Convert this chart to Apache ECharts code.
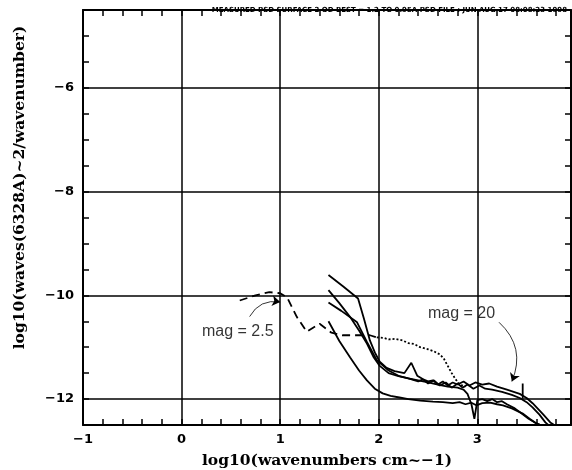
<!DOCTYPE html>
<html>
<head>
<meta charset="utf-8">
<script src="https://cdn.jsdelivr.net/npm/echarts@6/dist/echarts.min.js"></script>
<style>
html, body { margin: 0; padding: 0; background: #fff; }
#chart { width: 572px; height: 470px; }
</style>
</head>
<body>
<div id="chart"></div>
<script>
// axis ranges and grid lines
const xRange = [-1, 3.95]
const yRange = [-12.5, -4.5]
const xGridLines = [0, 1, 2, 3]
const yGridLines = [-6, -8, -10, -12]

// mag = 2.5 curve, dashed part then dotted part
const mag25Dashed = [[0.59, -10.10], [0.75, -10.0], [0.89, -9.94], [1.0, -9.96], [1.07, -10.04], [1.17, -10.42], [1.27, -10.70], [1.40, -10.55], [1.52, -10.72], [1.63, -10.77], [1.78, -10.77], [1.91, -10.77], [1.98, -10.81]]
const mag25Dotted = [[1.98, -10.81], [2.05, -10.82], [2.10, -10.85], [2.17, -10.84], [2.24, -10.87], [2.30, -10.92], [2.36, -10.94], [2.42, -11.0], [2.50, -11.04], [2.56, -11.08], [2.62, -11.14], [2.66, -11.22], [2.70, -11.36], [2.74, -11.50], [2.78, -11.62], [2.82, -11.72], [2.88, -11.76]]

// solid curves, top to bottom at x = 1.5
const curveA = [[1.49, -9.61], [1.64, -9.83], [1.79, -10.06], [1.85, -10.45], [1.91, -10.87], [1.96, -11.1], [2.01, -11.28], [2.08, -11.40], [2.16, -11.46], [2.26, -11.50], [2.33, -11.30], [2.39, -11.55], [2.45, -11.62], [2.50, -11.66], [2.55, -11.64], [2.60, -11.72], [2.65, -11.66], [2.70, -11.74], [2.75, -11.68], [2.80, -11.72], [2.86, -11.66], [2.92, -11.74], [2.98, -11.68], [3.05, -11.72], [3.12, -11.70], [3.20, -11.76], [3.30, -11.82], [3.43, -11.90], [3.50, -11.98], [3.56, -12.08], [3.62, -12.2], [3.67, -12.3], [3.74, -12.45], [3.78, -12.5]]
const curveB = [[1.49, -9.90], [1.60, -10.15], [1.71, -10.42], [1.80, -10.68], [1.88, -10.93], [1.95, -11.2], [2.01, -11.36], [2.10, -11.5], [2.20, -11.56], [2.30, -11.6], [2.40, -11.66], [2.45, -11.62], [2.50, -11.70], [2.56, -11.64], [2.62, -11.74], [2.68, -11.68], [2.74, -11.78], [2.80, -11.70], [2.85, -11.78], [2.90, -11.72], [2.96, -11.80], [3.02, -11.74], [3.08, -11.80], [3.15, -11.82], [3.25, -11.86], [3.35, -11.92], [3.43, -11.98], [3.50, -12.06], [3.56, -12.16], [3.63, -12.3], [3.69, -12.45], [3.72, -12.5]]
const curveC = [[1.49, -10.14], [1.62, -10.3], [1.78, -10.52], [1.88, -10.9], [1.98, -11.25], [2.10, -11.45], [2.21, -11.56], [2.30, -11.6], [2.40, -11.64], [2.50, -11.68], [2.60, -11.72], [2.70, -11.76], [2.80, -11.78], [2.86, -11.82], [2.90, -11.9], [2.94, -12.1], [2.97, -12.38], [3.00, -12.02], [3.05, -12.0], [3.10, -12.04], [3.15, -12.0], [3.20, -12.06], [3.25, -12.04], [3.30, -12.1], [3.38, -12.18], [3.45, -12.28], [3.52, -12.38], [3.60, -12.47], [3.64, -12.5]]
const curveD = [[1.49, -10.50], [1.60, -10.88], [1.71, -11.20], [1.80, -11.45], [1.88, -11.64], [1.96, -11.8], [2.04, -11.89], [2.12, -11.94], [2.21, -11.97], [2.30, -12.0], [2.42, -12.03], [2.55, -12.05], [2.65, -12.06], [2.75, -12.08], [2.82, -12.06], [2.88, -12.1], [2.94, -12.07], [2.99, -12.12], [3.05, -12.08], [3.13, -12.07], [3.20, -12.1], [3.26, -12.12], [3.35, -12.18], [3.46, -12.28], [3.53, -12.38], [3.60, -12.47], [3.64, -12.5], [3.85, -12.5]]
const markerTick = [[3.46, -11.70], [3.46, -11.99]]

// annotations
const noteText = ['mag = 2.5', 'mag = 20']
const notePos = [[0.57, -10.70], [2.84, -10.35]]
const noteArrows = [
  [[0.69, -10.41], [1.0, -10.13]],
  [[3.22, -10.52], [3.35, -11.66]]
]

const headerText = 'MEASURED PSD SURFACE 2 OD BEST = 1.2 TO 0.95A PSD FILE : JUN AUG 17 08:08:23 1998'

const chart = echarts.init(document.getElementById('chart'))

function fmtTick (v, even) {
  const r = Math.round(v)
  if (Math.abs(v - r) > 1e-6) return ''
  if (even && r % 2 !== 0) return ''
  return r < 0 ? '\u2212' + (-r) : String(r)
}

const axisFont = { fontFamily: 'DejaVu Sans', fontWeight: 'bold', fontSize: 13, color: '#000' }
const nameFont = { fontFamily: 'DejaVu Serif', fontWeight: 'bold', fontSize: 15.5, color: '#000' }
const frameLine = { show: true, onZero: false, lineStyle: { color: '#000', width: 2 } }
const innerTick = { show: true, inside: true, length: 6, lineStyle: { color: '#000', width: 1.5 } }

function curve (data, type) {
  return {
    type: 'line',
    data: data,
    symbol: 'none',
    silent: true,
    animation: false,
    lineStyle: { color: '#000', width: 1.8, type: type || 'solid' }
  }
}

let option = {
  animation: false,
  title: {
    text: headerText,
    right: 0,
    top: 2,
    textStyle: { fontSize: 7, fontWeight: 'bold', fontFamily: 'DejaVu Sans', color: '#000' }
  },
  grid: { left: 83, top: 10, width: 488, height: 415, outerBoundsMode: 'none', containLabel: false },
  xAxis: [
    {
      type: 'value',
      min: xRange[0],
      max: xRange[1],
      interval: 0.2,
      position: 'bottom',
      name: 'log10(wavenumbers cm~\u22121)',
      nameLocation: 'middle',
      nameGap: 28,
      nameTextStyle: nameFont,
      axisLine: frameLine,
      axisTick: innerTick,
      splitLine: { show: false },
      axisLabel: Object.assign({ margin: 8, formatter: v => fmtTick(v, false) }, axisFont)
    },
    {
      type: 'value',
      min: xRange[0],
      max: xRange[1],
      interval: 0.2,
      position: 'top',
      axisLine: frameLine,
      axisTick: innerTick,
      splitLine: { show: false },
      axisLabel: { show: false }
    }
  ],
  yAxis: [
    {
      type: 'value',
      min: yRange[0],
      max: yRange[1],
      interval: 0.5,
      position: 'left',
      name: 'log10(waves(6328A)~2/wavenumber)',
      nameLocation: 'middle',
      nameGap: 55,
      nameRotate: 90,
      nameTextStyle: Object.assign({ padding: [0, 0, 0, 60] }, nameFont),
      axisLine: frameLine,
      axisTick: innerTick,
      splitLine: { show: false },
      axisLabel: Object.assign({ margin: 9, formatter: v => fmtTick(v, true) }, axisFont)
    },
    {
      type: 'value',
      min: yRange[0],
      max: yRange[1],
      interval: 0.5,
      position: 'right',
      axisLine: frameLine,
      axisTick: innerTick,
      splitLine: { show: false },
      axisLabel: { show: false }
    }
  ],
  series: [
    Object.assign(curve(mag25Dashed, [8, 5]), {
      markLine: {
        silent: true,
        symbol: 'none',
        label: { show: false },
        lineStyle: { color: '#000', width: 1.5, type: 'solid' },
        data: xGridLines.map(v => ({ xAxis: v })).concat(yGridLines.map(v => ({ yAxis: v })))
      }
    }),
    curve(mag25Dotted, [2, 2]),
    curve(curveA),
    curve(curveB),
    curve(curveC),
    curve(curveD),
    curve(markerTick),
    {
      type: 'lines',
      coordinateSystem: 'cartesian2d',
      silent: true,
      symbol: ['none', 'arrow'],
      symbolSize: 8,
      itemStyle: { color: '#000' },
      lineStyle: { color: '#000', width: 0.8, opacity: 1, curveness: 0.35 },
      data: noteArrows.map(c => ({ coords: c }))
    },
    {
      type: 'scatter',
      silent: true,
      symbolSize: 0,
      data: notePos.map((p, i) => ({ value: p, name: noteText[i] })),
      label: {
        show: true,
        position: 'inside',
        formatter: p => p.name,
        fontFamily: 'Liberation Sans',
        fontSize: 16,
        color: '#000'
      }
    }
  ]
}

chart.setOption(option)
</script>
</body>
</html>
